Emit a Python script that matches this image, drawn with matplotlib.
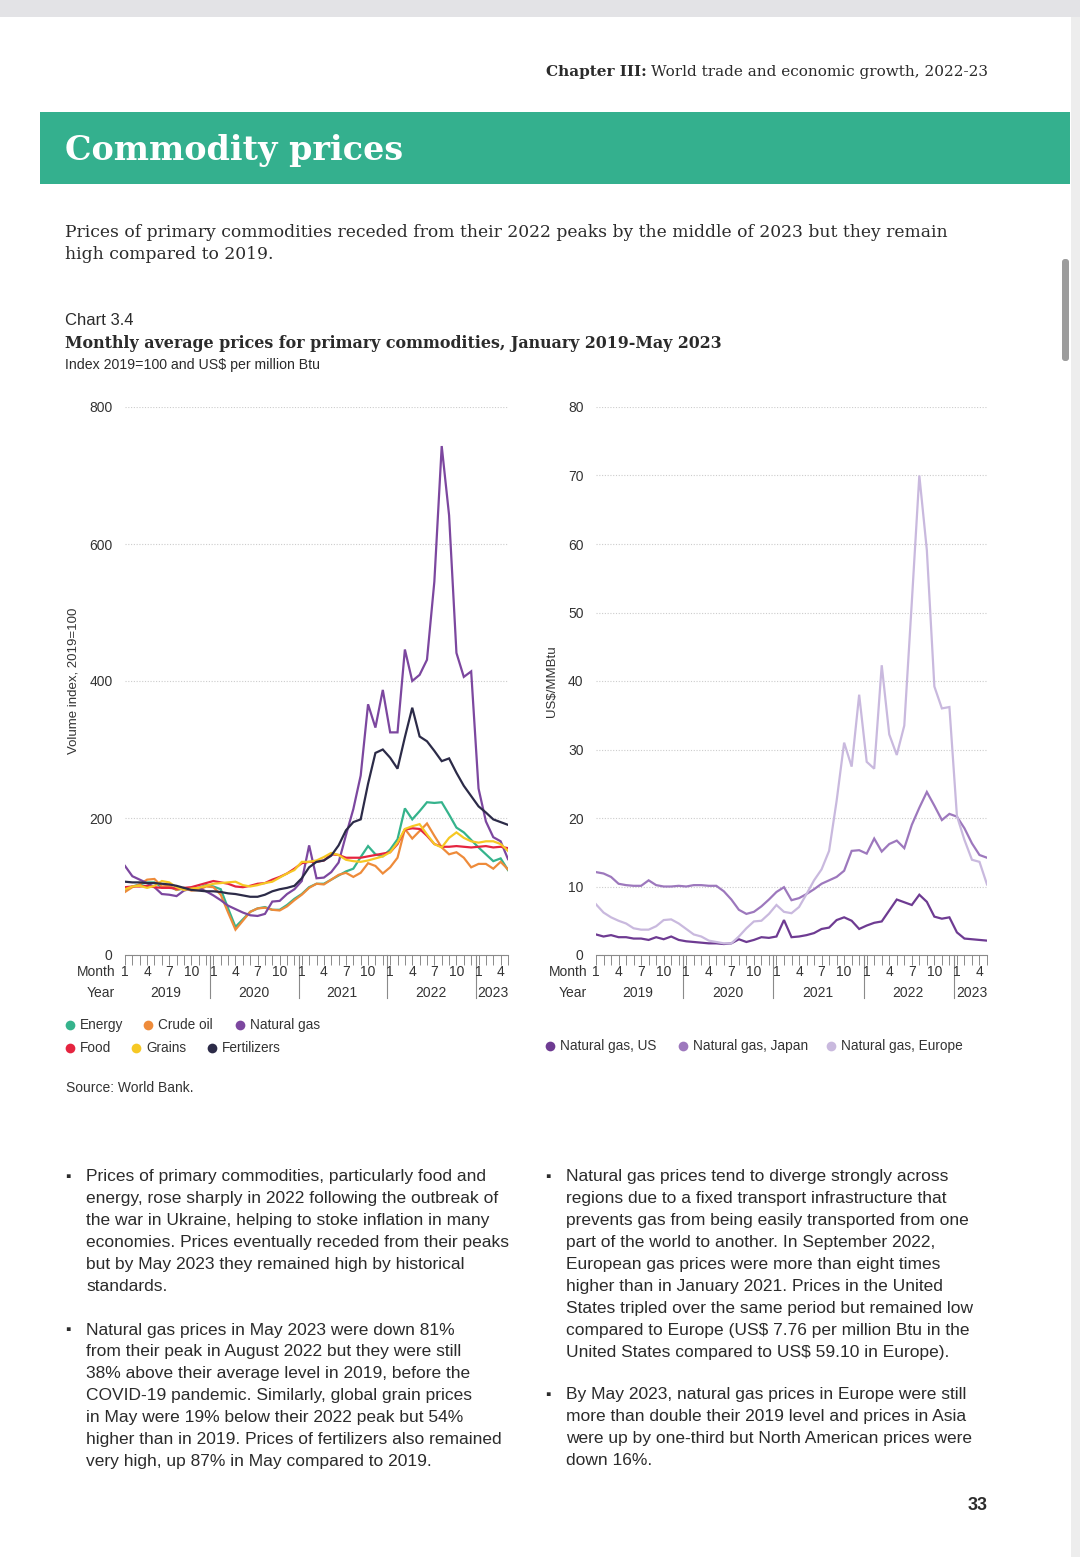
import matplotlib
matplotlib.use("Agg")
import matplotlib.pyplot as plt
from matplotlib.patches import Rectangle, FancyBboxPatch
import numpy as np

# page size in pixels
W, H = 1080, 1557

SANS = ["Liberation Sans", "DejaVu Sans"]
SERIF = ["DejaVu Serif"]
TXT = "#2b2b2b"

# ---- data: Jan 2019 .. May 2023, monthly ----
years = ["2019", "2020", "2021", "2022", "2023"]

energy = [95, 100, 103, 106, 106, 99, 100, 95, 97, 96, 98, 102,
          100, 96, 68, 41, 52, 63, 68, 70, 66, 66, 73, 82,
          89, 99, 104, 104, 110, 116, 122, 126, 143, 159, 147, 144,
          154, 169, 214, 198, 210, 223, 222, 223, 205, 186, 179, 168,
          157, 147, 137, 141, 124]
crude_oil = [92, 99, 103, 110, 111, 100, 101, 95, 98, 94, 95, 100,
             99, 88, 62, 37, 50, 63, 68, 69, 66, 65, 71, 80,
             88, 98, 104, 103, 110, 117, 120, 114, 120, 134, 130, 119,
             128, 142, 184, 170, 181, 192, 174, 157, 147, 150, 142, 128,
             133, 133, 126, 136, 125]
natural_gas = [130, 115, 110, 105, 99, 89, 88, 86, 94, 97, 98, 93,
               87, 80, 72, 67, 62, 58, 57, 60, 78, 79, 89, 96,
               108, 160, 112, 113, 121, 135, 175, 213, 262, 366, 332, 387,
               325, 325, 446, 400, 409, 431, 545, 743, 642, 441, 406, 414,
               243, 195, 172, 166, 140]
food = [99, 100, 100, 101, 99, 98, 98, 97, 98, 99, 102, 105,
        108, 106, 104, 100, 99, 101, 104, 105, 110, 114, 119, 126,
        134, 136, 136, 138, 147, 146, 142, 142, 142, 144, 146, 148,
        150, 162, 183, 185, 184, 174, 162, 158, 158, 159, 158, 157,
        158, 159, 157, 158, 156]
grains = [96, 100, 101, 98, 101, 108, 106, 99, 95, 97, 98, 101,
          104, 105, 106, 107, 102, 100, 102, 105, 107, 113, 119, 124,
          136, 136, 138, 143, 149, 146, 139, 137, 136, 138, 141, 144,
          150, 164, 184, 188, 191, 176, 162, 157, 171, 179, 171, 166,
          164, 166, 166, 162, 152]
fertilizers = [107, 106, 106, 105, 105, 104, 103, 101, 98, 95, 94, 93,
               93, 92, 90, 89, 87, 85, 85, 88, 93, 96, 98, 101,
               112, 128, 136, 138, 145, 160, 182, 194, 198, 250, 295, 300,
               288, 272, 318, 361, 319, 312, 298, 283, 287, 266, 247, 232,
               217, 208, 198, 194, 190]

gas_us = [3.0, 2.7, 2.9, 2.6, 2.6, 2.4, 2.4, 2.2, 2.6, 2.3, 2.7, 2.2,
          2.0, 1.9, 1.8, 1.7, 1.7, 1.6, 1.7, 2.3, 1.9, 2.2, 2.6, 2.5,
          2.7, 5.1, 2.6, 2.7, 2.9, 3.2, 3.8, 4.0, 5.1, 5.5, 5.0, 3.8,
          4.3, 4.7, 4.9, 6.5, 8.1, 7.7, 7.3, 8.8, 7.76, 5.6, 5.3, 5.5,
          3.3, 2.4, 2.3, 2.2, 2.1]
gas_japan = [12.1, 11.9, 11.4, 10.4, 10.2, 10.1, 10.1, 10.9, 10.2, 10.0, 10.0, 10.1,
             10.0, 10.2, 10.2, 10.1, 10.1, 9.3, 8.1, 6.6, 6.0, 6.3, 7.1, 8.1,
             9.2, 9.9, 8.0, 8.3, 8.9, 9.6, 10.4, 10.9, 11.4, 12.3, 15.2, 15.3,
             14.8, 17.0, 15.1, 16.2, 16.7, 15.6, 19.0, 21.5, 23.8, 21.8, 19.7, 20.6,
             20.2, 18.5, 16.3, 14.6, 14.2]
gas_europe = [7.4, 6.2, 5.5, 5.0, 4.6, 3.9, 3.7, 3.7, 4.2, 5.1, 5.2, 4.6,
              3.8, 3.0, 2.7, 2.1, 1.9, 1.7, 1.7, 2.7, 3.9, 4.9, 5.0, 6.0,
              7.3, 6.3, 6.1, 7.0, 8.9, 10.9, 12.5, 15.2, 22.5, 31.0, 27.5, 38.0,
              28.2, 27.2, 42.3, 32.2, 29.2, 33.5, 51.5, 70.0, 59.1, 39.2, 36.0, 36.2,
              20.3, 16.8, 13.9, 13.6, 10.3]

left_series = [("Energy", energy, "#35b38c"), ("Crude oil", crude_oil, "#ee8b3a"),
               ("Natural gas", natural_gas, "#7c479f"), ("Food", food, "#e5243f"),
               ("Grains", grains, "#f6c824"), ("Fertilizers", fertilizers, "#2c2b48")]
right_series = [("Natural gas, US", gas_us, "#6e3b92"),
                ("Natural gas, Japan", gas_japan, "#9d78bd"),
                ("Natural gas, Europe", gas_europe, "#c9b9de")]

months = np.arange(len(energy))

fig = plt.figure(figsize=(W / 100, H / 100), dpi=100)
fig.patch.set_facecolor("white")

# page overlay in pixel coords
bg = fig.add_axes([0, 0, 1, 1])
bg.set_xlim(0, W)
bg.set_ylim(H, 0)
bg.axis("off")

bg.add_patch(Rectangle((0, 0), W, 17, color="#e3e3e6", lw=0))
bg.add_patch(Rectangle((1071, 17), 9, H, color="#ededed", lw=0))
bg.add_patch(FancyBboxPatch((1063, 260), 5, 100, boxstyle="round,pad=1,rounding_size=3",
                            color="#9c9c9c", lw=0))

# running header: regular part first, bold part placed right before it
rend = fig.canvas.get_renderer()
hdr = bg.text(988, 72, "World trade and economic growth, 2022-23", ha="right", va="center",
              fontsize=11, family=SERIF, color=TXT)
bb = hdr.get_window_extent(renderer=rend)
bg.text(bb.x0 - 4, 72, "Chapter III:", ha="right", va="center", fontsize=11,
        family=SERIF, weight="bold", color=TXT)

bg.add_patch(Rectangle((40, 112), 1030, 72, color="#34b08e", lw=0))
bg.text(65, 150, "Commodity prices", ha="left", va="center", fontsize=24,
        family=SERIF, weight="bold", color="white")

bg.text(65, 232, "Prices of primary commodities receded from their 2022 peaks by the middle of 2023 but they remain",
        ha="left", va="center", fontsize=12.3, family=SERIF, color=TXT)
bg.text(65, 254, "high compared to 2019.", ha="left", va="center", fontsize=12.3,
        family=SERIF, color=TXT)

bg.text(65, 320, "Chart 3.4", ha="left", va="center", fontsize=12, family=SANS, color=TXT)
bg.text(65, 343, "Monthly average prices for primary commodities, January 2019-May 2023",
        ha="left", va="center", fontsize=11.4, family=SERIF, weight="bold", color=TXT)
bg.text(65, 365, "Index 2019=100 and US$ per million Btu", ha="left", va="center",
        fontsize=10.2, family=SANS, color=TXT)


def make_chart(x0, x1, ymax, ystep, series, ylabel, ylab_x, month_x):
    ax = fig.add_axes([x0 / W, 1 - 955 / H, (x1 - x0) / W, (955 - 407) / H])
    for name, vals, col in series:
        ax.plot(months, vals, color=col, lw=1.6, solid_joinstyle="miter")
    ax.set_xlim(0, months[-1])
    ax.set_ylim(0, ymax)
    ax.set_yticks(np.arange(0, ymax + 1, ystep))
    ax.yaxis.grid(True, linestyle=(0, (1, 1.5)), color="#cccccc", lw=0.8)
    ax.set_axisbelow(True)
    for s in ["top", "right", "left"]:
        ax.spines[s].set_visible(False)
    ax.spines["bottom"].set_color("#8a8a8a")
    ax.spines["bottom"].set_linewidth(0.8)
    ax.tick_params(axis="y", length=0, pad=9, labelsize=10, labelcolor="#333333")
    for lab in ax.get_yticklabels():
        lab.set_family(SANS)
    ax.set_xticks(months)
    ax.set_xticklabels([])
    ax.tick_params(axis="x", length=7, width=0.7, color="#8a8a8a")

    tr = ax.get_xaxis_transform()
    for i in months:
        if i % 3 == 0:
            ax.text(i, -0.031, str(i % 12 + 1), transform=tr, ha="center", va="center",
                    fontsize=10, family=SANS, color="#333333")
    for k, yr in enumerate(years):
        start = 12 * k
        end = min(12 * k + 11, months[-1])
        ax.text((start + end) / 2, -0.069, yr, transform=tr, ha="center", va="center",
                fontsize=10, family=SANS, color="#333333")
        if k > 0:
            ax.plot([start - 0.4, start - 0.4], [0, -0.079], transform=tr, clip_on=False,
                    color="#8a8a8a", lw=0.8)

    bg.text(month_x, 972, "Month", ha="right", va="center", fontsize=10, family=SANS, color="#333333")
    bg.text(month_x, 993, "Year", ha="right", va="center", fontsize=10, family=SANS, color="#333333")
    bg.text(ylab_x, 681, ylabel, ha="center", va="center", rotation=90, fontsize=9.5,
            family=SANS, color="#333333")
    return ax


make_chart(125, 508, 800, 200, left_series, "Volume index, 2019=100", 73, 115)
make_chart(596, 987, 80, 10, right_series, "US$/MMBtu", 552, 587)

# legends
left_leg = [(70, 1025), (148, 1025), (240, 1025), (70, 1048), (136, 1048), (212, 1048)]
for (name, vals, col), (lx, ly) in zip(left_series, left_leg):
    bg.plot(lx, ly, "o", ms=7, color=col, mec="none")
    bg.text(lx + 10, ly, name, ha="left", va="center", fontsize=9.8, family=SANS, color="#333333")
right_leg = [(550, 1046), (683, 1046), (831, 1046)]
for (name, vals, col), (lx, ly) in zip(right_series, right_leg):
    bg.plot(lx, ly, "o", ms=7, color=col, mec="none")
    bg.text(lx + 10, ly, name, ha="left", va="center", fontsize=9.8, family=SANS, color="#333333")

bg.text(66, 1088, "Source: World Bank.", ha="left", va="center", fontsize=10,
        family=SANS, color="#333333")

# body text
bullets = [
    (68, 1177, ["Prices of primary commodities, particularly food and",
                "energy, rose sharply in 2022 following the outbreak of",
                "the war in Ukraine, helping to stoke inflation in many",
                "economies. Prices eventually receded from their peaks",
                "but by May 2023 they remained high by historical",
                "standards."]),
    (68, 1330, ["Natural gas prices in May 2023 were down 81%",
                "from their peak in August 2022 but they were still",
                "38% above their average level in 2019, before the",
                "COVID-19 pandemic. Similarly, global grain prices",
                "in May were 19% below their 2022 peak but 54%",
                "higher than in 2019. Prices of fertilizers also remained",
                "very high, up 87% in May compared to 2019."]),
    (548, 1177, ["Natural gas prices tend to diverge strongly across",
                 "regions due to a fixed transport infrastructure that",
                 "prevents gas from being easily transported from one",
                 "part of the world to another. In September 2022,",
                 "European gas prices were more than eight times",
                 "higher than in January 2021. Prices in the United",
                 "States tripled over the same period but remained low",
                 "compared to Europe (US$ 7.76 per million Btu in the",
                 "United States compared to US$ 59.10 in Europe)."]),
    (548, 1395, ["By May 2023, natural gas prices in Europe were still",
                 "more than double their 2019 level and prices in Asia",
                 "were up by one-third but North American prices were",
                 "down 16%."]),
]
for bx, by, lines in bullets:
    bg.text(bx, by, "\u25aa", ha="center", va="center", fontsize=11, family=SANS, color=TXT)
    for n, line in enumerate(lines):
        bg.text(bx + 18, by + n * 21.9, line, ha="left", va="center", fontsize=12.5,
                family=SANS, color=TXT)

bg.text(988, 1505, "33", ha="right", va="center", fontsize=13, family=SANS,
        weight="bold", color=TXT)

fig.savefig("out.png", dpi=100, facecolor="white")
